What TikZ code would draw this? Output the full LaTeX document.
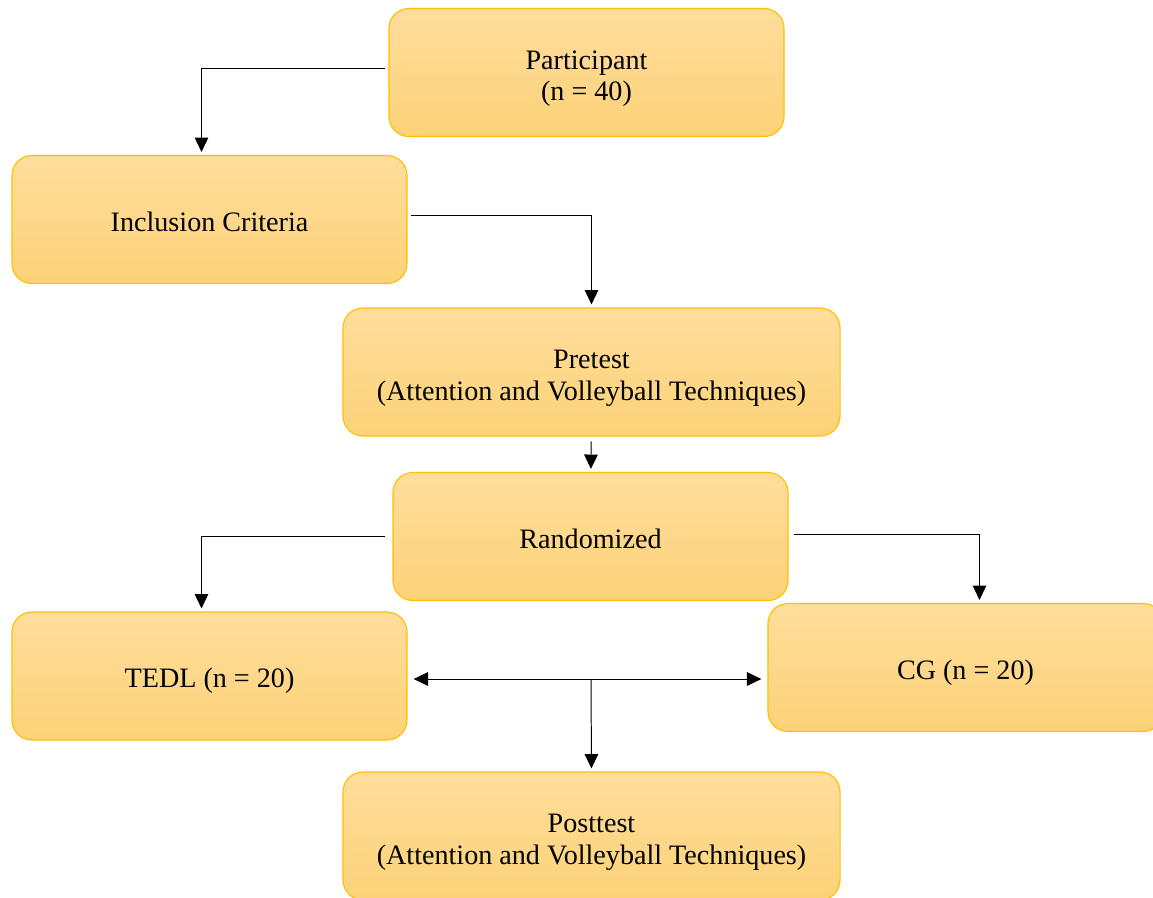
\documentclass[tikz,border=0pt]{standalone}
\usepackage{fontspec}
\setmainfont{Liberation Serif}
\usepackage{xcolor}
\usepackage{tikz}
\usetikzlibrary{arrows.meta, positioning, calc}
\definecolor{boxtop}{RGB}{254, 221, 156}
\definecolor{boxbottom}{RGB}{253, 210, 120}
\definecolor{boxborder}{RGB}{255, 192, 0}
\newcommand{\topgap}{\rule{0pt}{22.5pt}}
\tikzstyle{stage} = [
    rectangle, 
    rounded corners=0.5cm, 
    minimum width=9.875cm, 
    minimum height=3.2cm, 
    align=center, 
    draw=boxborder, 
    line width=0.8pt,
    top color=boxtop,
    bottom color=boxbottom,
    font=\fontsize{20}{22.5}\selectfont,
    execute at begin node={\rule[-4.5pt]{0pt}{25.5pt}}
]
\tikzstyle{widestage} = [
    stage,
    minimum width=12.425cm
]
\tikzstyle{arrow} = [
    line width=0.7pt, 
    -{Triangle[length=0.36cm, width=0.34cm]}, 
    color=black,
    shorten <=0.075cm,
    shorten >=0.075cm
]

\begin{document}
\begin{tikzpicture}[x=0.025cm, y=-0.025cm]
        \clip (0,0) rectangle (1153,897);
        % Boxes
        \node[stage] (part) at (586.5,72.5) {\topgap Participant\\(n = 40)};
        \node[stage] (incl) at (209.5,219.5) {Inclusion Criteria};
        \node[widestage] (pre) at (591.5,372) {\topgap Pretest\\(Attention and Volleyball Techniques)};
        \node[stage] (rand) at (590.5,536.5) {Randomized};
        \node[stage] (tedl) at (209.5,676) {TEDL (n = 20)};
        \node[stage] (cg) at (965.5,667.5) {CG (n = 20)};
        \node[widestage] (post) at (591.5,836) {\topgap Posttest\\(Attention and Volleyball Techniques)};
        
        % Arrows
        \draw[arrow] ([yshift=0.11cm]part.west) -| ([xshift=-0.2cm]incl.north);
        \draw[arrow] ([yshift=0.09cm]incl.east) -| (pre.north);
        \draw[arrow, shorten <=0.12cm] (pre) -- (rand);
        \draw[arrow] ([xshift=-0.1cm]rand.west) -| ([xshift=-0.2cm]tedl.north);
        \draw[arrow] ([xshift=0.07cm, yshift=0.04cm]rand.east) -| ([xshift=0.35cm]cg.north);
        \coordinate (mid) at (591,679);
        \draw[arrow, {Triangle[length=0.36cm, width=0.34cm]}-{Triangle[length=0.36cm, width=0.34cm]}, shorten <=0.15cm, shorten >=0.15cm] (tedl.east |- mid) -- (cg.west |- mid);
        \draw[arrow, shorten <=0pt] (mid) -- (post.north);
    \end{tikzpicture}
\end{document}
